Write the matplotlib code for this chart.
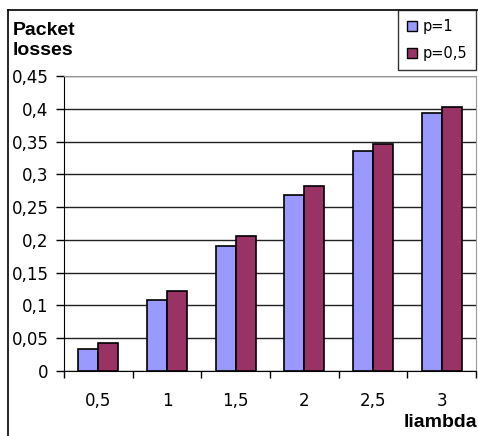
import numpy as np
import matplotlib.pyplot as plt
from matplotlib.patches import Patch

plt.rcParams['font.family'] = ['DejaVu Sans']

# data
categories = ['0,5', '1', '1,5', '2', '2,5', '3']
p1 = [0.034, 0.109, 0.191, 0.269, 0.336, 0.394]
p05 = [0.043, 0.122, 0.206, 0.282, 0.347, 0.403]
yticks = [0, 0.05, 0.1, 0.15, 0.2, 0.25, 0.3, 0.35, 0.4, 0.45]
ytick_labels = ['0', '0,05', '0,1', '0,15', '0,2', '0,25', '0,3', '0,35', '0,4', '0,45']

blue = '#9999FF'
red = '#993366'

W, H = 478, 436
fig = plt.figure(figsize=(4.78, 4.36), dpi=100)
ax = fig.add_axes([64 / W, 65 / H, 412 / W, 295 / H])

x = np.arange(len(categories))
w = 0.29
ax.bar(x - w / 2, p1, w, color=blue, edgecolor='black', linewidth=1.2, label='p=1', zorder=3)
ax.bar(x + w / 2, p05, w, color=red, edgecolor='black', linewidth=1.2, label='p=0,5', zorder=3)

ax.set_xlim(-0.5, len(categories) - 0.5)
ax.set_ylim(0, 0.45)
ax.set_yticks(yticks)
ax.set_yticklabels(ytick_labels, fontsize=12)
ax.set_xticks(x)
ax.set_xticklabels(categories, fontsize=12)
ax.set_xticks(np.arange(len(categories) + 1) - 0.5, minor=True)
ax.tick_params(axis='x', which='major', length=0, pad=15)
ax.tick_params(axis='x', which='minor', length=5, direction='out', width=1)
ax.tick_params(axis='y', length=6, direction='out', width=1, pad=5)

ax.yaxis.grid(True, color='#222222', linewidth=1)
ax.set_axisbelow(True)
ax.spines['left'].set_color('black')
ax.spines['bottom'].set_color('black')
ax.spines['top'].set_color('#999999')
ax.spines['right'].set_color('#999999')

bold = dict(fontsize=14, fontweight='bold', family='Liberation Sans', va='baseline')
fig.text(13 / W, 1 - 35 / H, 'Packet', ha='left', **bold)
fig.text(13 / W, 1 - 55 / H, 'losses', ha='left', **bold)
fig.text(477 / W, 1 - 427 / H, 'liambda', ha='right', **bold)

handles = [Patch(facecolor=blue, edgecolor='black', label='p=1'),
           Patch(facecolor=red, edgecolor='black', label='p=0,5')]
leg = fig.legend(handles=handles, loc='upper right', bbox_to_anchor=(476 / W, 1 - 10 / H),
                 fontsize=10.5, frameon=True, fancybox=False, handlelength=0.7, handleheight=0.7,
                 handletextpad=0.4, borderpad=0.6, labelspacing=0.85, borderaxespad=0)
leg.get_frame().set_edgecolor('black')
leg.get_frame().set_linewidth(1)

# outer chart border
fig.add_artist(plt.Line2D([8 / W, 8 / W], [0, 1 - 10 / H], color='black', lw=1.2))
fig.add_artist(plt.Line2D([8 / W, 1], [1 - 10 / H, 1 - 10 / H], color='black', lw=1.2))

fig.savefig('out.png', dpi=100)
